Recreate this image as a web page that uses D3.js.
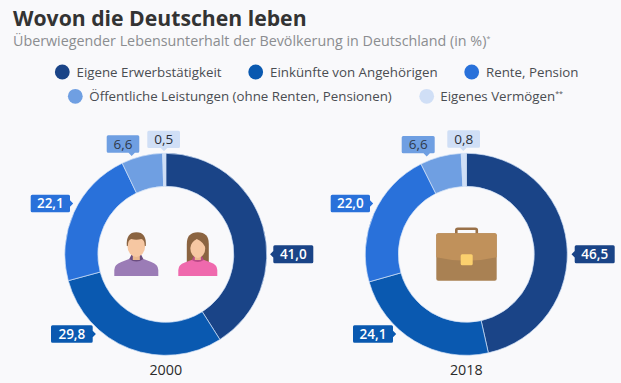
<!DOCTYPE html>
<html><head><meta charset="utf-8">
<script src="https://cdn.jsdelivr.net/npm/d3@7/dist/d3.min.js"></script>
<style>html,body{margin:0;padding:0;background:#f9f9fb}svg{display:block}text{font-family:"Open Sans",sans-serif}</style>
</head><body><script>
// --- data ---
const categories = ["Eigene Erwerbstätigkeit","Einkünfte von Angehörigen","Rente, Pension","Öffentliche Leistungen (ohne Renten, Pensionen)","Eigenes Vermögen"];
const years = ["2000","2018"];
const values2000 = [41.0,29.8,22.1,6.6,0.5];
const values2018 = [46.5,24.1,22.0,6.6,0.8];
const colors = ["#1a4487","#0a59b0","#2971da","#6f9fe2","#d0dff6"];
const textColors = ["#fff","#fff","#fff","#2f3a4a","#2b2f36"];

// --- layout (not data) ---
const W=621,H=383,R=101,r=68,cy=254.3;
const centers=[165.8,466.3];
const legendLayout=[{dot:62.3,text:76.5,y:72},{dot:255.7,text:270,y:72},{dot:471.7,text:486,y:72},{dot:75.3,text:89.3,y:96.3},{dot:426.7,text:440.3,y:96.3}];
// tag: box left, top, width, height, side of the pointer, pointer coordinate along the side
const tags2000=[
 {x:273.3,y:245.3,w:40,h:18,side:"l",p:254.3},
 {x:51,y:325.3,w:41.7,h:17.4,side:"r",p:334},
 {x:30.7,y:194.7,w:39.3,h:17.6,side:"r",p:203.5},
 {x:106.7,y:135.3,w:32.6,h:17.4,side:"b",p:131.7},
 {x:147.3,y:130.7,w:32.7,h:17.3,side:"b",p:164}];
const tags2018=[
 {x:574.7,y:245.3,w:40,h:18,side:"l",p:254.3},
 {x:353,y:325.3,w:40,h:17.4,side:"r",p:334},
 {x:330.7,y:194.7,w:39.3,h:17.6,side:"r",p:203.5},
 {x:401.7,y:136,w:33,h:17.3,side:"b",p:426.7},
 {x:447.3,y:130.3,w:32.7,h:17.4,side:"b",p:463.3}];

const svg=d3.select("body").append("svg").attr("width",W).attr("height",H);
svg.append("rect").attr("width",W).attr("height",H).attr("fill","#f9f9fb");

svg.append("text").attr("x",13).attr("y",25.5).attr("font-size",21.2).attr("font-weight",700).attr("fill","#333").text("Wovon die Deutschen leben");
const sub=svg.append("text").attr("x",13).attr("y",46).attr("font-size",14.3).attr("fill","#8b8d90").text("Überwiegender Lebensunterhalt der Bevölkerung in Deutschland (in %)");
sub.append("tspan").attr("font-size",7).attr("dy",-5).text("*");

const color=d3.scaleOrdinal().domain(categories).range(colors);
const textColor=d3.scaleOrdinal().domain(categories).range(textColors);

const lg=svg.append("g").selectAll("g").data(categories).join("g");
lg.append("circle").attr("cx",(d,i)=>legendLayout[i].dot).attr("cy",(d,i)=>legendLayout[i].y).attr("r",7.4).attr("fill",d=>color(d));
const lt=lg.append("text").attr("x",(d,i)=>legendLayout[i].text).attr("y",(d,i)=>legendLayout[i].y+4.6).attr("font-size",13.3).attr("fill","#4a4d52").text(d=>d);
lt.filter((d,i)=>i===4).append("tspan").attr("font-size",7).attr("dy",-5).text("**");

const pie=d3.pie().sort(null).value(d=>d.value);
const arc=d3.arc().innerRadius(r).outerRadius(R);
const fmt=v=>d3.format(".1f")(v).replace(".",",");

function tagPath(t){
  const x0=t.x,y0=t.y,x1=t.x+t.w,y1=t.y+t.h,c=1.5,a=3.2;
  const rr=`M${x0+c},${y0}`;
  let top=`L${x1-c},${y0}Q${x1},${y0} ${x1},${y0+c}`;
  let right=`L${x1},${y1-c}`;
  if(t.side==="r") right=`L${x1},${t.p-a}L${x1+3.2},${t.p}L${x1},${t.p+a}L${x1},${y1-c}`;
  let bottom=`Q${x1},${y1} ${x1-c},${y1}`;
  if(t.side==="b") bottom+=`L${t.p+a},${y1}L${t.p},${y1+3.2}L${t.p-a},${y1}`;
  bottom+=`L${x0+c},${y1}Q${x0},${y1} ${x0},${y1-c}`;
  let left=`L${x0},${y0+c}`;
  if(t.side==="l") left=`L${x0},${t.p+a}L${x0-3.2},${t.p}L${x0},${t.p-a}L${x0},${y0+c}`;
  return rr+top+right+bottom+left+`Q${x0},${y0} ${x0+c},${y0}Z`;
}

function donut(values,cx,year,tags){
  const rows=categories.map((c,i)=>({cat:c,value:values[i],tag:tags[i]}));
  const g=svg.append("g").attr("transform",`translate(${cx},${cy})`);
  g.selectAll("path").data(pie(rows)).join("path").attr("d",arc)
    .attr("fill",d=>color(d.data.cat)).attr("stroke","#cfe0f7").attr("stroke-width",0.7);
  svg.append("text").attr("x",cx).attr("y",374.5).attr("text-anchor","middle").attr("font-size",14.3).attr("fill","#2b2b2b").text(year);
  const tg=svg.append("g").selectAll("g").data(rows).join("g");
  tg.append("path").attr("d",d=>tagPath(d.tag)).attr("fill",d=>color(d.cat));
  tg.append("text").attr("x",d=>d.tag.x+d.tag.w/2).attr("y",d=>d.tag.y+d.tag.h/2+4.8)
    .attr("text-anchor","middle").attr("font-size",13.5)
    .attr("font-weight",(d,i)=>i<3?600:400)
    .attr("fill",d=>textColor(d.cat)).text(d=>fmt(d.value));
}
donut(values2000,centers[0],years[0],tags2000);
donut(values2018,centers[1],years[1],tags2018);

// --- icons ---
function man(g){
  g.append("path").attr("fill","#9b7cb6").attr("d","M-22,22V16Q-22,10.5 -15,8L-6,4.5H6L15,8Q22,10.5 22,16V22Z");
  g.append("path").attr("fill","#6b4d7f").attr("d","M-7,5Q0,10 7,5L5,1H-5Z");
  g.append("rect").attr("x",-3.5).attr("y",-2).attr("width",7).attr("height",8).attr("fill","#eab88f");
  g.append("ellipse").attr("cx",0).attr("cy",-9).attr("rx",9).attr("ry",12).attr("fill","#f6c7a2");
  g.append("path").attr("fill","#8b6441").attr("d","M-9.5,-8Q-10.5,-21.8 0,-21.8Q10.5,-21.8 9.5,-8L8.5,-8Q8.5,-14 5,-15Q0,-13.5 -5,-15Q-8.5,-14 -8.5,-8Z");
}
function woman(g){
  g.append("path").attr("fill","#8b6441").attr("d","M-11,8V-10Q-11,-21.8 0,-21.8Q11,-21.8 11,-10V8Z");
  g.append("path").attr("fill","#ef69ad").attr("d","M-19.5,22V16Q-19.5,10.5 -13,8.5L-5,5.5H5L13,8.5Q19.5,10.5 19.5,16V22Z");
  g.append("path").attr("fill","#b94a86").attr("d","M-6,6Q0,10 6,6L4,2H-4Z");
  g.append("rect").attr("x",-3).attr("y",-1).attr("width",6).attr("height",7).attr("fill","#eab88f");
  g.append("ellipse").attr("cx",0).attr("cy",-6).attr("rx",7.5).attr("ry",10).attr("fill","#f6c7a2");
  g.append("path").attr("fill","#8b6441").attr("d","M-8,-5Q-7,-12 -1,-15Q6,-12 8,-5V-17H-8Z");
}
man(svg.append("g").attr("transform",`translate(${centers[0]-29.5},254)`));
woman(svg.append("g").attr("transform",`translate(${centers[0]+32},254)`));

const b=svg.append("g").attr("transform",`translate(${centers[1]},${cy})`);
b.append("path").attr("fill","none").attr("stroke","#9a7148").attr("stroke-width",2.6).attr("d","M-10,-20V-24Q-10,-25.5 -8.5,-25.5H9Q10.5,-25.5 10.5,-24V-20");
b.append("rect").attr("x",-30).attr("y",-21).attr("width",60.4).attr("height",47.4).attr("rx",2).attr("fill","#a98153");
b.append("path").attr("fill","#c0915b").attr("d","M-30,-19Q-30,-21 -28,-21H28.4Q30.4,-21 30.4,-19V3Q0,10 -30,3Z");
b.append("rect").attr("x",-5.6).attr("y",0).attr("width",12).attr("height",11).attr("rx",1.5).attr("fill","#fbd06e");
</script></body></html>
